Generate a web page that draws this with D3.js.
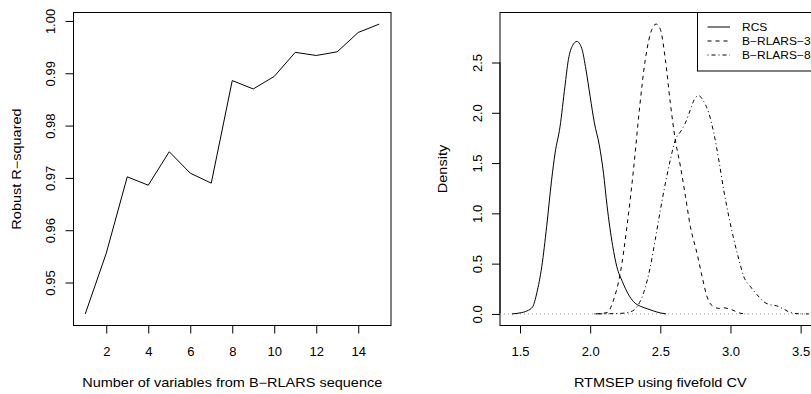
<!DOCTYPE html>
<html><head><meta charset="utf-8">
<script src="https://cdn.jsdelivr.net/npm/d3@7"></script>
<style>
body{margin:0;background:#fff}
svg{display:block}
text{font-family:"Liberation Sans",Arial,Helvetica,sans-serif;fill:#000}
</style>
</head><body><svg id="c" width="811" height="394"></svg>
<script>
// ---- Left panel data ----
const nVars = [1,2,3,4,5,6,7,8,9,10,11,12,13,14,15];
const robustR2 = [0.9440,0.9556,0.9702,0.9686,0.9750,0.9709,0.9690,0.9886,0.9870,0.9894,0.9940,0.9934,0.9941,0.9978,0.9994];
const leftXTicks = [2,4,6,8,10,12,14];
const leftYTicks = [0.95,0.96,0.97,0.98,0.99,1.00];
const leftXLabel = "Number of variables from B\u2212RLARS sequence";
const leftYLabel = "Robust R\u2212squared";

// ---- Right panel data (density curves) ----
const seriesNames = ["RCS","B\u2212RLARS\u22123","B\u2212RLARS\u22128"];
const rcsX = [1.442,1.50,1.55,1.59,1.62,1.655,1.69,1.725,1.75,1.785,1.82,1.845,1.875,1.905,1.94,1.97,2.00,2.03,2.065,2.095,2.12,2.16,2.19,2.23,2.27,2.31,2.36,2.41,2.45,2.50,2.54];
const rcsY = [0.0,0.01,0.03,0.07,0.21,0.47,0.87,1.33,1.60,1.86,2.26,2.53,2.67,2.71,2.64,2.43,2.16,1.90,1.68,1.40,1.08,0.68,0.47,0.32,0.20,0.12,0.075,0.05,0.03,0.01,0.0];
const b3X = [2.04,2.12,2.167,2.214,2.265,2.31,2.35,2.393,2.44,2.47,2.50,2.536,2.571,2.607,2.643,2.679,2.714,2.762,2.798,2.833,2.881,2.92,2.952,3.012,3.07,3.12];
const b3Y = [0.0,0.013,0.14,0.40,0.90,1.45,2.02,2.53,2.83,2.882,2.83,2.53,2.10,1.73,1.47,1.17,0.87,0.60,0.37,0.17,0.07,0.055,0.06,0.04,0.007,0.0];
const b8X = [2.03,2.214,2.286,2.333,2.381,2.429,2.464,2.50,2.536,2.571,2.607,2.643,2.679,2.714,2.75,2.774,2.81,2.845,2.881,2.917,2.952,2.988,3.024,3.06,3.095,3.143,3.19,3.238,3.286,3.33,3.38,3.43,3.50,3.557];
const b8Y = [0.0,0.005,0.02,0.07,0.21,0.47,0.74,1.03,1.30,1.53,1.73,1.81,1.90,2.03,2.15,2.17,2.11,2.00,1.80,1.53,1.23,0.97,0.74,0.54,0.37,0.27,0.19,0.12,0.09,0.08,0.047,0.013,0.0,0.0];
const rightXTicks = [1.5,2.0,2.5,3.0,3.5];
const rightYTicks = [0.0,0.5,1.0,1.5,2.0,2.5];
const rightXLabel = "RTMSEP using fivefold CV";
const rightYLabel = "Density";

const svg = d3.select("#c");
const expand = ([a,b]) => { const d=(b-a)*0.04; return [a-d,b+d]; };
const STRETCH = 1.21;

function panel(opt){
  const {x,y,xTicks,yTicks,xFmt,yFmt,xLabel,yLabel,box} = opt;
  const g = svg.append("g");
  // box
  g.append("rect").attr("x",box[0]).attr("y",box[2]).attr("width",box[1]-box[0]).attr("height",box[3]-box[2])
    .attr("fill","none").attr("stroke","#000").attr("stroke-width",1);
  // x axis
  const ax = g.append("g").attr("transform",`translate(0,${box[3]})`)
    .call(d3.axisBottom(x).tickValues(xTicks).tickSize(8).tickSizeOuter(0).tickFormat(xFmt));
  ax.select(".domain").remove();
  ax.append("line").attr("x1",x(xTicks[0])).attr("x2",x(xTicks[xTicks.length-1])).attr("stroke","#000");
  ax.selectAll(".tick line").attr("stroke","#000");
  ax.selectAll(".tick text").attr("y",30.5).attr("dy",null).attr("font-size",13)
    .attr("font-family",null).attr("fill","#000");
  // y axis
  const ay = g.append("g").attr("transform",`translate(${box[0]},0)`)
    .call(d3.axisLeft(y).tickValues(yTicks).tickSize(8).tickSizeOuter(0).tickFormat(yFmt));
  ay.select(".domain").remove();
  ay.append("line").attr("y1",y(yTicks[0])).attr("y2",y(yTicks[yTicks.length-1])).attr("stroke","#000");
  ay.selectAll(".tick line").attr("stroke","#000");
  ay.selectAll(".tick text").attr("x",0).attr("y",0).attr("dy",null).attr("font-size",13)
    .attr("text-anchor","middle").attr("font-family",null).attr("fill","#000")
    .attr("transform","translate(-18.3,0) rotate(-90)");
  ax.attr("font-family",null); ay.attr("font-family",null);
  // titles
  const cx = (box[0]+box[1])/2, cy=(box[2]+box[3])/2;
  g.append("text").attr("text-anchor","middle").attr("font-size",12)
    .attr("transform",`translate(${cx},386.5) scale(${STRETCH},1)`).text(xLabel);
  g.append("text").attr("text-anchor","middle").attr("font-size",12)
    .attr("transform",`translate(${box[0]-53},${cy}) rotate(-90) scale(${STRETCH},1)`).text(yLabel);
  return g;
}

// ---- Left panel ----
const lBox=[73.5,391,12.5,325.5];
const lx = d3.scaleLinear().domain(expand(d3.extent(nVars))).range([lBox[0],lBox[1]]);
const ly = d3.scaleLinear().domain(expand(d3.extent(robustR2))).range([lBox[3],lBox[2]]);
const lg = panel({x:lx,y:ly,xTicks:leftXTicks,yTicks:leftYTicks,xFmt:d3.format("d"),yFmt:d3.format(".2f"),
  xLabel:leftXLabel,yLabel:leftYLabel,box:lBox});
lg.append("path").datum(nVars.map((v,i)=>[v,robustR2[i]]))
  .attr("fill","none").attr("stroke","#000").attr("stroke-width",1)
  .attr("d",d3.line().x(d=>lx(d[0])).y(d=>ly(d[1])));

// ---- Right panel ----
const rBox=[500,820.5,12.5,325.5];
const allX = rcsX.concat(b3X,b8X), allY = rcsY.concat(b3Y,b8Y);
const rx = d3.scaleLinear().domain(expand(d3.extent(allX))).range([rBox[0],rBox[1]]);
const ry = d3.scaleLinear().domain(expand([0,d3.max(allY)])).range([rBox[3],rBox[2]]);
const rg = panel({x:rx,y:ry,xTicks:rightXTicks,yTicks:rightYTicks,xFmt:d3.format(".1f"),yFmt:d3.format(".1f"),
  xLabel:rightXLabel,yLabel:rightYLabel,box:rBox});
// zero line
rg.append("line").attr("x1",rBox[0]).attr("x2",rBox[1]).attr("y1",ry(0)).attr("y2",ry(0))
  .attr("stroke","#999").attr("stroke-width",1).attr("stroke-dasharray","1,3");
const dashes = [null,"4,4","1,3,4,3"];
const series = [[rcsX,rcsY],[b3X,b3Y],[b8X,b8Y]];
const dline = d3.line().x(d=>rx(d[0])).y(d=>ry(d[1])).curve(d3.curveMonotoneX);
series.forEach(([xs,ys],i)=>{
  rg.append("path").datum(xs.map((v,j)=>[v,ys[j]]))
    .attr("fill","none").attr("stroke","#000").attr("stroke-width",1)
    .attr("stroke-dasharray",dashes[i]).attr("d",dline);
});
// legend
const leg = rg.append("g");
leg.append("rect").attr("x",697.5).attr("y",rBox[2]).attr("width",rBox[1]-697.5).attr("height",71-rBox[2])
  .attr("fill","#fff").attr("stroke","#000");
seriesNames.forEach((nm,i)=>{
  const yy = 27 + i*14;
  leg.append("line").attr("x1",707.5).attr("x2",730).attr("y1",yy).attr("y2",yy)
    .attr("stroke","#000").attr("stroke-dasharray",dashes[i]);
  leg.append("text").attr("font-size",10)
    .attr("transform",`translate(742,${yy+3.6}) scale(1.2,1)`).text(nm);
});
</script></body></html>
